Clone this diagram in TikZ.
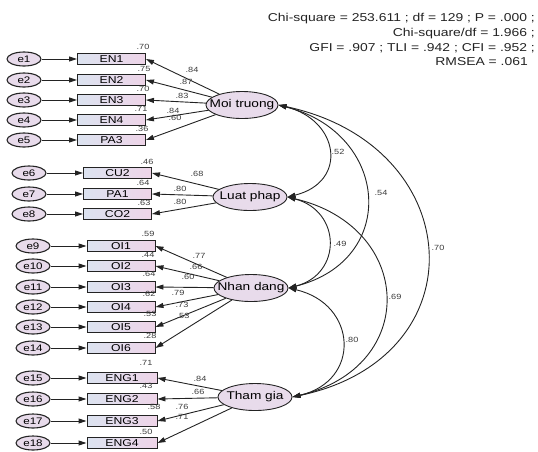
\documentclass[tikz,border=0pt]{standalone}
\usepackage{fontspec}
\setmainfont[FakeStretch=1.22]{Liberation Sans}
\usetikzlibrary{arrows.meta,shapes.geometric}
\definecolor{ln}{RGB}{35,35,35}
\definecolor{latfill}{RGB}{232,219,235}
\definecolor{obsL}{RGB}{220,227,240}
\definecolor{obsR}{RGB}{238,212,232}
\definecolor{numc}{RGB}{60,60,60}
\begin{document}
\begin{tikzpicture}[x=1pt,y=-1pt,
  err/.style={ellipse, draw=ln, line width=1.1pt, fill=latfill, minimum width=34pt, minimum height=14pt, inner sep=0pt, font=\fontsize{9.5}{9}\selectfont},
  obs/.style={rectangle, draw=ln, line width=0.9pt, left color=obsL, right color=obsR, minimum width=68pt, minimum height=10.5pt, inner sep=0pt, font=\fontsize{10}{9}\selectfont},
  lat/.style={ellipse, draw=ln, line width=0.9pt, fill=latfill, minimum width=74pt, minimum height=27pt, inner sep=0pt, font=\fontsize{11.2}{11}\selectfont},
  num/.style={font=\fontsize{7.5}{7.5}\selectfont, text=numc, inner sep=0pt},
  hdr/.style={font=\fontsize{11.4}{12}\selectfont, text=ln, inner sep=0pt, anchor=base east},
  arr/.style={draw=ln, line width=0.9pt, -{Triangle[length=8pt,width=5pt]}},
  cov/.style={draw=ln, line width=0.9pt, {Triangle[length=8pt,width=5pt]}-{Triangle[length=8pt,width=5pt]}}
]
\useasboundingbox (0,0) rectangle (538,451);
% header
\node[hdr] (h1) at (535,21) {Chi-square = 253.611 ; df = 129 ; P = .000 ;};
\node[hdr] (h2) at (535,36) {Chi-square/df = 1.966 ;};
\node[hdr] (h3) at (535,51) {GFI = .907 ; TLI = .942 ; CFI = .952 ;};
\node[hdr] (h4) at (528,65) {RMSEA = .061};
% latent
\node[lat, minimum width=72pt] (mt) at (242,105) {\makebox[0pt]{Moi truong}};
\node[lat] (lp) at (250,197) {\makebox[0pt]{Luat phap}};
\node[lat] (nd) at (251,288) {\makebox[0pt]{Nhan dang}};
\node[lat] (tg) at (255,397) {\makebox[0pt]{Tham gia}};
% group 1
\foreach \i/\n/\y in {1/EN1/59,2/EN2/80,3/EN3/100,4/EN4/120,5/PA3/140}{
  \node[err] (e\i) at (24,\y) {e\i};
  \node[obs] (o\i) at (111.5,\y) {\n};
  \draw[arr] (e\i) -- (o\i);
  \draw[arr] (mt) -- (o\i.east);
}
% group 2
\foreach \i/\n/\y in {6/CU2/173,7/PA1/194,8/CO2/214}{
  \node[err] (e\i) at (29,\y) {e\i};
  \node[obs] (o\i) at (117.5,\y) {\n};
  \draw[arr] (e\i) -- (o\i);
  \draw[arr] (lp) -- (o\i.east);
}
% group 3
\foreach \i/\n/\y in {9/OI1/246,10/OI2/266,11/OI3/287,12/OI4/307,13/OI5/327,14/OI6/348}{
  \node[err] (e\i) at (33,\y) {e\i};
  \node[obs] (o\i) at (121,\y) {\n};
  \draw[arr] (e\i) -- (o\i);
  \draw[arr] (nd) -- (o\i.east);
}
% group 4
\foreach \i/\n/\y in {15/ENG1/378,16/ENG2/399,17/ENG3/421,18/ENG4/443}{
  \node[err] (e\i) at (33,\y) {e\i};
  \node[obs, minimum width=70pt] (o\i) at (122,\y) {\n};
  \draw[arr] (e\i) -- (o\i);
  \draw[arr] (tg) -- (o\i.east);
}
% loadings labels
\foreach \t/\x/\y in {.84/192/70,.87/186/82,.83/182/96,.84/173/111,.60/175/118,
  .68/197/174,.80/180/189,.80/180/202,
  .77/199/256,.66/196/267,.60/188/277,.79/178/293,.73/182/305,.53/183/316,
  .84/200/379,.66/198/392,.76/182/407,.71/182/417}{
  \node[num] at (\x,\y) {\t};
}
% reliabilities
\foreach \t/\x/\y in {.70/143/47,.75/144/69,.70/143/89,.71/141/109,.36/142/129,
  .46/147/162,.64/143/183,.63/144/203,
  .59/148/234,.44/148/255,.64/149/274,.62/149/294,.53/150/314,.28/150/336,
  .71/146/363,.43/146/386,.58/154/407,.50/146/432}{
  \node[num] at (\x,\y) {\t};
}
% covariances
\draw[cov] (mt.east) .. controls +(61,15) and +(61,-15) .. (lp.east);
\draw[cov] (mt.east) .. controls +(111,28) and +(111,-28) .. (nd.east);
\draw[cov] (mt.east) .. controls +(189,40) and +(189,-40) .. (tg.east);
\draw[cov] (lp.east) .. controls +(54,14) and +(54,-14) .. (nd.east);
\draw[cov] (lp.east) .. controls +(127,30) and +(127,-30) .. (tg.east);
\draw[cov] (nd.east) .. controls +(69,16) and +(69,-16) .. (tg.east);
\node[num] (c1) at (338,152) {.52};
\node[num] (c2) at (381,193) {.54};
\node[num] (c3) at (438,248) {.70};
\node[num] (c4) at (340,244) {.49};
\node[num] (c5) at (395,297) {.69};
\node[num] (c6) at (352,340) {.80};
\end{tikzpicture}
\end{document}
